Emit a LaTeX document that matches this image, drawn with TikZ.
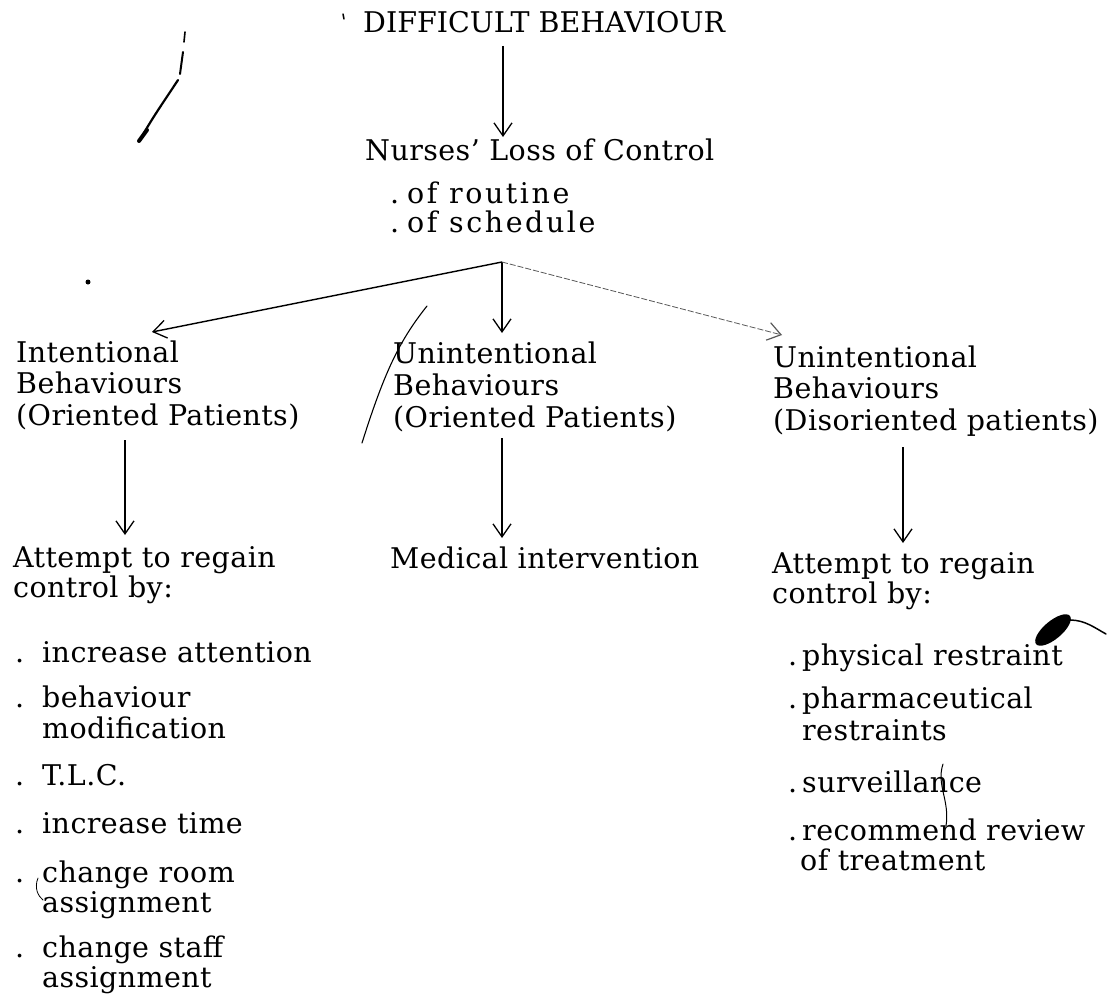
\documentclass[tikz,border=0pt]{standalone}
\usepackage{fontspec}
\setmainfont{DejaVu Serif}[LetterSpace=1.5]
\usetikzlibrary{arrows.meta}
\newcommand\lbul{\makebox[27pt][l]{.}}
\newcommand\rbul{\makebox[14pt][l]{.}}
\begin{document}
\begin{tikzpicture}[x=1pt,y=-1pt,
  txt/.style={anchor=base west, inner sep=0pt, font=\fontsize{28.5}{31.5}\selectfont},
  widetxt/.style={txt, font=\fontsize{28.5}{31.5}\selectfont\addfontfeature{LetterSpace=9}},
  arr/.style={-{Straight Barb[length=13pt,width=18pt,line width=1.3pt]}, line width=1.4pt},
  thinarr/.style={arr, line width=1.1pt},
  faintarr/.style={-{Straight Barb[length=13pt,width=18pt,line width=1.2pt]}, line width=0.8pt, draw=black!65, dash pattern=on 6pt off 2pt},
  penmark/.style={line width=1.2pt, line cap=round}]
\useasboundingbox (0,0) rectangle (1107,998);
\fill[white] (0,0) rectangle (1107,998);

% top
\node[txt, font=\fontsize{28.5}{31.5}\selectfont\addfontfeature{LetterSpace=0}] (title) at (363,33) {DIFFICULT BEHAVIOUR};
\node[txt] (nurses) at (365,160) {Nurses' Loss of Control};
\node[widetxt] (loss) at (390,203) {\vtop{\baselineskip=29pt\lineskiplimit=-100pt
  \hbox{.\hspace{8pt}of routine}\hbox{.\hspace{8pt}of schedule}}};

% second level
\node[txt] (i1) at (16,362) {Intentional};
\node[txt] (i2) at (16,393) {Behaviours};
\node[txt] (i3) at (16,425) {(Oriented Patients)};
\node[txt] (m1) at (393,363) {Unintentional};
\node[txt] (m2) at (393,395) {Behaviours};
\node[txt] (m3) at (393,427) {(Oriented Patients)};
\node[txt] (r1) at (773,367) {Unintentional};
\node[txt] (r2) at (773,398) {Behaviours};
\node[txt] (r3) at (773,430) {(Disoriented patients)};

% third level
\node[txt] (aL1) at (13,567) {Attempt to regain};
\node[txt] (aL2) at (13,597) {control by:};
\node[txt] (med) at (390,568) {Medical intervention};
\node[txt] (aR1) at (772,573) {Attempt to regain};
\node[txt] (aR2) at (772,603) {control by:};

% left list
\node[txt] (L1) at (15,662) {\lbul increase attention};
\node[txt] (L2a) at (15,707) {\lbul behaviour};
\node[txt] (L2b) at (42,738) {modification};
\node[txt] (L3) at (15,785) {\lbul T.L.C.};
\node[txt] (L4) at (15,833) {\lbul increase time};
\node[txt] (L5a) at (15,882) {\lbul change room};
\node[txt] (L5b) at (42,912) {assignment};
\node[txt] (L6a) at (15,957) {\lbul change staff};
\node[txt] (L6b) at (42,987) {assignment};

% right list
\node[txt] (R1) at (788,665) {\rbul physical restraint};
\node[txt] (R2a) at (788,708) {\rbul pharmaceutical};
\node[txt] (R2b) at (802,740) {restraints};
\node[txt] (R3) at (788,792) {\rbul surveillance};
\node[txt] (R4a) at (788,840) {\rbul recommend review};
\node[txt] (R4b) at (800,870) {of treatment};

% connectors
\coordinate (xA) at (503,0);
\coordinate (apex) at (502,262);
\coordinate (xL) at (125,0);
\coordinate (xR) at (903,0);
\draw[arr, shorten <=13pt, shorten >=23pt] (title.base -| xA) -- (nurses.base -| xA);
\draw[arr] (apex) -- ([shift={(136pt,30pt)}]i1.base west);
\draw[arr, shorten >=30pt] (apex) -- (m1.base -| apex);
\draw[faintarr] (apex) -- ([shift={(9pt,32pt)}]r1.base west);
\draw[arr, shorten <=15pt, shorten >=32pt] (i3.base -| xL) -- (aL1.base -| xL);
\draw[thinarr, shorten <=11pt, shorten >=30pt] (m3.base -| apex) -- (med.base -| apex);
\draw[thinarr, shorten <=17pt, shorten >=30pt] (r3.base -| xR) -- (aR1.base -| xR);

% stray pen marks of the scan
\draw[penmark, line width=1.6pt] (185,32) -- (184,42);
\draw[penmark, line width=2pt] (183,52) -- (180,74);
\draw[penmark, line width=2.2pt] (178,80) .. controls (165,100) and (152,118) .. (140,140);
\draw[penmark, line width=4pt] (147,130) -- (139,141);
\draw[penmark, line width=1.1pt] (427,306) .. controls (400,340) and (385,370) .. (362,443);
\fill[rotate around={40:(1053,630)}] (1053,630) ellipse (22pt and 9pt);
\draw[penmark, line width=1.5pt] (1070,620) .. controls (1085,620) and (1095,628) .. (1106,634);
\draw[penmark, line width=1pt] (943,764) .. controls (936,785) and (950,800) .. (946,826);
\draw[penmark, line width=0.8pt] (38,878) .. controls (34,888) and (38,896) .. (43,900);
\fill (88,282) circle (2.5pt);
\draw[penmark, line width=1.5pt] (343,14) -- (344,19);
\end{tikzpicture}
\end{document}
